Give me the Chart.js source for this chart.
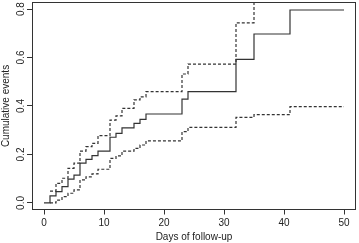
<!DOCTYPE html>
<html>
<head>
<meta charset="utf-8">
<script src="https://cdn.jsdelivr.net/npm/chart.js@4.4.1/dist/chart.umd.min.js"></script>
<style>
  html, body { margin:0; padding:0; background:#fff; }
  #wrap { width:359px; height:243px; position:relative; }
</style>
</head>
<body>
<div id="wrap"><canvas id="c"></canvas></div>
<script>
// Cumulative incidence (step curve) with lower / upper confidence limits
const estDays   = [0, 1, 2, 3, 4, 5, 6, 7, 8, 9, 11, 12, 13, 15, 16, 17, 23, 24, 32, 35, 41, 50];
const estVals   = [0, 0.029, 0.047, 0.067, 0.098, 0.115, 0.164, 0.18, 0.195, 0.214, 0.271, 0.287, 0.31, 0.328, 0.345, 0.367, 0.428, 0.459, 0.592, 0.697, 0.796, 0.796];
const upperDays = [1, 2, 3, 4, 5, 6, 7, 8, 9, 11, 12, 13, 15, 16, 17, 23, 24, 32, 35, 41, 50];
const upperVals = [0.049, 0.081, 0.102, 0.143, 0.164, 0.214, 0.232, 0.246, 0.278, 0.342, 0.359, 0.39, 0.425, 0.438, 0.459, 0.532, 0.573, 0.743, 1.0, 1.0, 1.0];
const lowerDays = [1, 2, 3, 4, 5, 6, 7, 8, 9, 11, 12, 13, 15, 16, 17, 23, 24, 32, 35, 41, 50];
const lowerVals = [0, 0.012, 0.026, 0.04, 0.054, 0.095, 0.108, 0.12, 0.139, 0.184, 0.194, 0.214, 0.225, 0.239, 0.256, 0.294, 0.312, 0.353, 0.364, 0.397, 0.397];
const xTicks = [0, 10, 20, 30, 40, 50];
const yTicks = [0, 0.2, 0.4, 0.6, 0.8];
const xTitle = 'Days of follow-up';
const yTitle = 'Cumulative events';

const INK = '#333', FONT = '"Liberation Sans", Arial, sans-serif';
const pts = (xs, ys) => xs.map((x, i) => ({ x, y: ys[i] }));

// box, rotated y labels and axis titles (R base-graphics look)
const rFrame = {
  id: 'rFrame',
  afterDraw(chart) {
    const { ctx, chartArea: a, scales: { x, y } } = chart;
    ctx.save();
    ctx.strokeStyle = INK; ctx.lineWidth = 1;
    ctx.strokeRect(a.left + 0.5, a.top + 0.5, a.right - a.left - 1, a.bottom - a.top - 0.5);
    ctx.fillStyle = '#222';
    ctx.font = '10px ' + FONT;
    ctx.textAlign = 'center'; ctx.textBaseline = 'middle';
    yTicks.forEach(v => {
      ctx.save();
      ctx.translate(a.left - 11, y.getPixelForValue(v));
      ctx.rotate(-Math.PI / 2);
      ctx.fillText(v.toFixed(1), 0, 0);
      ctx.restore();
    });
    ctx.save();
    ctx.translate(6, (y.getPixelForValue(0) + y.getPixelForValue(0.8)) / 2);
    ctx.rotate(-Math.PI / 2);
    ctx.fillText(yTitle, 0, 0);
    ctx.restore();
    ctx.fillText(xTitle, (x.getPixelForValue(0) + x.getPixelForValue(50)) / 2, 237);
    ctx.restore();
  }
};

const line = (data, dash) => ({
  data, stepped: 'before', borderColor: INK, borderWidth: 1.2,
  borderDash: dash, pointRadius: 0, fill: false, tension: 0
});

new Chart(document.getElementById('c'), {
  type: 'line',
  data: { datasets: [
    line(pts(estDays, estVals), []),
    line(pts(upperDays, upperVals), [3, 2]),
    line(pts(lowerDays, lowerVals), [3, 2]),
  ]},
  options: {
    responsive: true, maintainAspectRatio: false, animation: false,
    layout: { padding: { top: 2, right: 3, left: 0, bottom: 0 } },
    plugins: { legend: { display: false }, tooltip: { enabled: false } },
    scales: {
      x: {
        type: 'linear', min: -2, max: 52,
        afterBuildTicks: s => { s.ticks = xTicks.map(v => ({ value: v })); },
        afterFit: s => { s.height = 33.5; },
        grid: { drawOnChartArea: false, drawTicks: true, tickLength: 5, color: INK },
        border: { display: false },
        ticks: { color: '#222', font: { family: FONT, size: 10 }, padding: 3, maxRotation: 0, autoSkip: false }
      },
      y: {
        min: -0.027, max: 0.829,
        afterBuildTicks: s => { s.ticks = yTicks.map(v => ({ value: v })); },
        afterFit: s => { s.width = 32; },
        grid: { drawOnChartArea: false, drawTicks: true, tickLength: 5, color: INK },
        border: { display: false },
        ticks: { display: false }
      }
    }
  },
  plugins: [rFrame]
});
</script>
</body>
</html>
